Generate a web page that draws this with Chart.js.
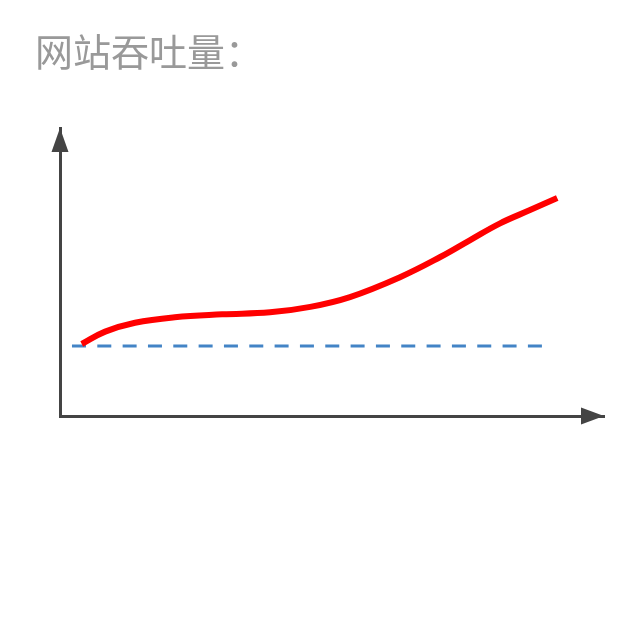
<!DOCTYPE html>
<html>
<head>
<meta charset="utf-8">
<script src="https://cdn.jsdelivr.net/npm/chart.js@4/dist/chart.umd.min.js"></script>
<style>
  html, body { margin: 0; padding: 0; background: #fff; }
  #wrap { width: 640px; height: 640px; position: relative; }
</style>
</head>
<body>
<div id="wrap"><canvas id="chart"></canvas></div>
<script>
// chart values (x and y on a 0..100 axis range)
var titleText = '网站吞吐量：';
var throughputX = [4.0, 8.3, 13.8, 21.1, 29.8, 38.6, 46.0, 53.3, 62.5, 69.9, 75.4, 80.9, 86.4, 91.4];
var throughputY = [25.0, 29.3, 32.4, 34.3, 35.3, 36.0, 37.9, 41.3, 48.2, 55.2, 61.1, 66.9, 71.5, 75.7];
var baselineX = [2.2, 88.8];
var baselineY = [24.3, 24.3];

function toPoints(xs, ys) {
    return xs.map(function(x, i) { return { x: x, y: ys[i] }; });
}

// arrow heads at the end of both axes
var axisArrows = {
    id: 'axisArrows',
    afterDraw: function(chart) {
        var ctx = chart.ctx;
        var a = chart.chartArea;
        ctx.save();
        ctx.fillStyle = '#444444';
        ctx.beginPath();
        ctx.moveTo(a.left, a.top);
        ctx.lineTo(a.left - 8.5, a.top + 24);
        ctx.lineTo(a.left + 8.5, a.top + 24);
        ctx.closePath();
        ctx.fill();
        ctx.beginPath();
        ctx.moveTo(a.right, a.bottom);
        ctx.lineTo(a.right - 23, a.bottom - 8.5);
        ctx.lineTo(a.right - 23, a.bottom + 8.5);
        ctx.closePath();
        ctx.fill();
        ctx.restore();
    }
};

var ctx = document.getElementById('chart').getContext('2d');
var chart = new Chart(ctx, {
    type: 'line',
    data: {
        datasets: [{
            label: 'throughput',
            data: toPoints(throughputX, throughputY),
            borderColor: '#ff0000',
            borderWidth: 6,
            borderCapStyle: 'butt',
            tension: 0.4,
            pointRadius: 0,
            fill: false
        }, {
            label: 'baseline',
            data: toPoints(baselineX, baselineY),
            borderColor: '#4384c6',
            borderWidth: 3,
            borderDash: [14, 11.33],
            pointRadius: 0,
            fill: false
        }]
    },
    options: {
        responsive: true,
        maintainAspectRatio: false,
        animation: false,
        layout: { padding: { left: 35, right: 36, top: 0, bottom: 0 } },
        plugins: {
            legend: { display: false },
            tooltip: { enabled: false },
            title: {
                display: true,
                text: titleText,
                align: 'start',
                color: '#999999',
                font: { family: "'Noto Sans CJK SC', 'Noto Sans', sans-serif", size: 38, weight: 'normal', lineHeight: 1.2 },
                padding: { top: 28.7, bottom: 53.7 }
            }
        },
        scales: {
            x: {
                type: 'linear',
                min: 0,
                max: 100,
                grid: { display: false },
                ticks: { display: false },
                border: { display: true, color: '#444444', width: 3 },
                afterFit: function(scale) { scale.height = 224; }
            },
            y: {
                type: 'linear',
                min: 0,
                max: 100,
                grid: { display: false },
                ticks: { display: false },
                border: { display: true, color: '#444444', width: 3 },
                afterFit: function(scale) { scale.width = 25; }
            }
        }
    },
    plugins: [axisArrows]
});
</script>
</body>
</html>
